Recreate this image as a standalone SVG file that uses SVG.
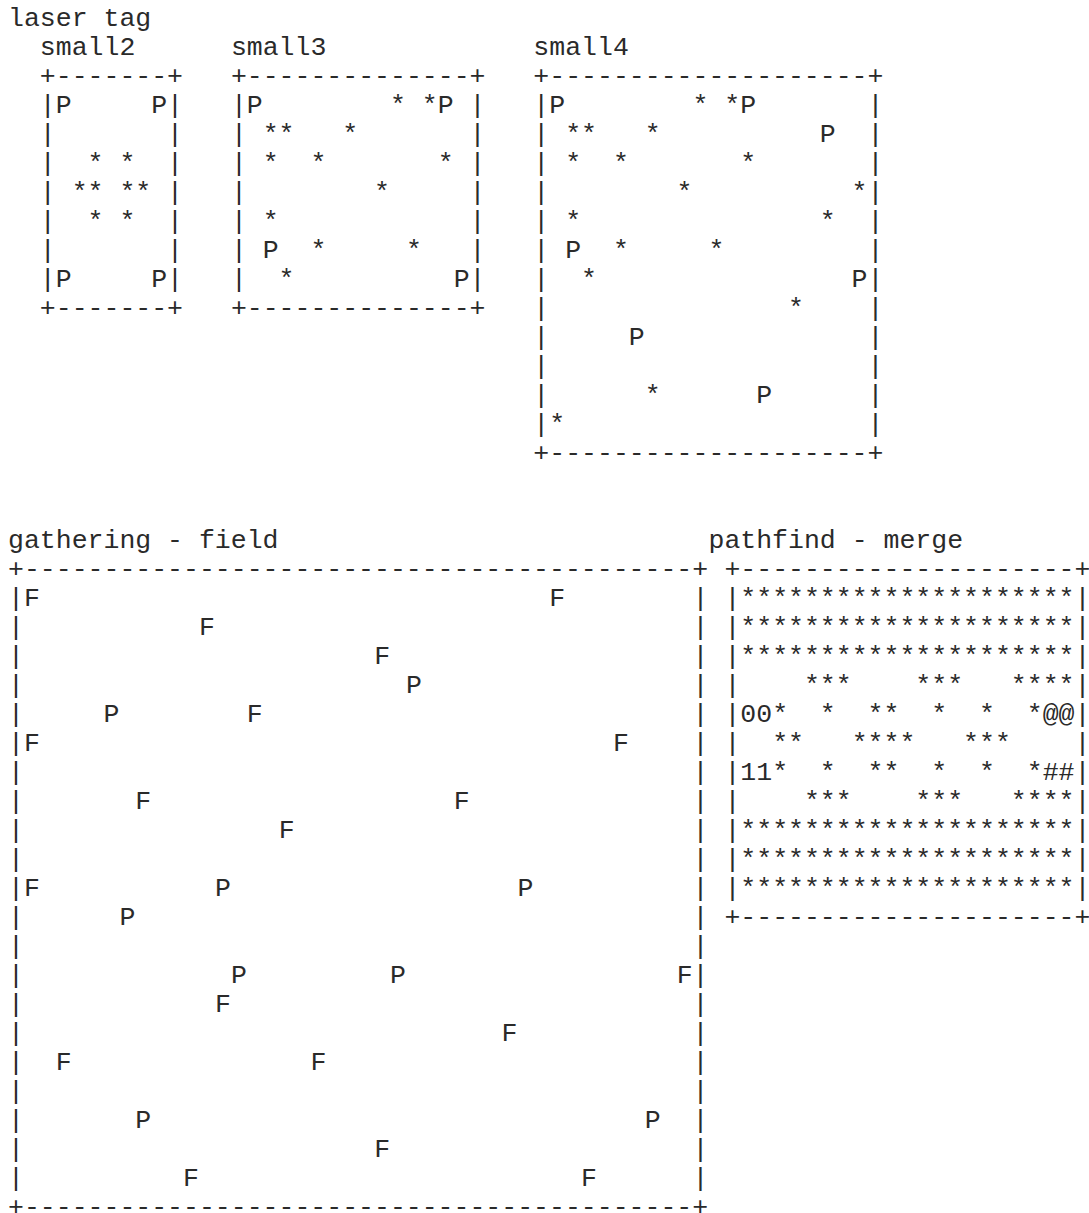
<svg xmlns="http://www.w3.org/2000/svg" width="1089" height="1213" viewBox="0 0 1089 1213">
<style>
text { font-family: "Liberation Mono", "Courier New", monospace; font-size: 26.53px; fill: #2a2a2a; white-space: pre; }
</style>
<rect width="1089" height="1213" fill="#fff"/>
<g id="laser-tag-title">
<text x="8" y="26.3">laser tag</text>
</g>
<g id="small2">
<text x="39.84" y="55.3">small2</text>
<text xml:space="preserve" x="39.84" y="84.3">+-------+</text>
<text xml:space="preserve" x="39.84" y="113.3">|P     P|</text>
<text xml:space="preserve" x="39.84" y="142.3">|       |</text>
<text xml:space="preserve" x="39.84" y="171.3">|  * *  |</text>
<text xml:space="preserve" x="39.84" y="200.3">| ** ** |</text>
<text xml:space="preserve" x="39.84" y="229.3">|  * *  |</text>
<text xml:space="preserve" x="39.84" y="258.3">|       |</text>
<text xml:space="preserve" x="39.84" y="287.3">|P     P|</text>
<text xml:space="preserve" x="39.84" y="316.3">+-------+</text>
</g>
<g id="small3">
<text x="230.88" y="55.3">small3</text>
<text xml:space="preserve" x="230.88" y="84.3">+--------------+</text>
<text xml:space="preserve" x="230.88" y="113.3">|P        * *P |</text>
<text xml:space="preserve" x="230.88" y="142.3">| **   *       |</text>
<text xml:space="preserve" x="230.88" y="171.3">| *  *       * |</text>
<text xml:space="preserve" x="230.88" y="200.3">|        *     |</text>
<text xml:space="preserve" x="230.88" y="229.3">| *            |</text>
<text xml:space="preserve" x="230.88" y="258.3">| P  *     *   |</text>
<text xml:space="preserve" x="230.88" y="287.3">|  *          P|</text>
<text xml:space="preserve" x="230.88" y="316.3">+--------------+</text>
</g>
<g id="small4">
<text x="533.36" y="55.3">small4</text>
<text xml:space="preserve" x="533.36" y="84.3">+--------------------+</text>
<text xml:space="preserve" x="533.36" y="113.3">|P        * *P       |</text>
<text xml:space="preserve" x="533.36" y="142.3">| **   *          P  |</text>
<text xml:space="preserve" x="533.36" y="171.3">| *  *       *       |</text>
<text xml:space="preserve" x="533.36" y="200.3">|        *          *|</text>
<text xml:space="preserve" x="533.36" y="229.3">| *               *  |</text>
<text xml:space="preserve" x="533.36" y="258.3">| P  *     *         |</text>
<text xml:space="preserve" x="533.36" y="287.3">|  *                P|</text>
<text xml:space="preserve" x="533.36" y="316.3">|               *    |</text>
<text xml:space="preserve" x="533.36" y="345.3">|     P              |</text>
<text xml:space="preserve" x="533.36" y="374.3">|                    |</text>
<text xml:space="preserve" x="533.36" y="403.3">|      *      P      |</text>
<text xml:space="preserve" x="533.36" y="432.3">|*                   |</text>
<text xml:space="preserve" x="533.36" y="461.3">+--------------------+</text>
</g>
<g id="gathering-field">
<text x="8" y="548.3">gathering - field</text>
<text x="8" y="577.3">+------------------------------------------+</text>
<text y="606.3"><tspan x="8">|F</tspan><tspan x="549.28">F</tspan><tspan x="692.56">|</tspan></text>
<text y="635.3"><tspan x="8">|</tspan><tspan x="199.04">F</tspan><tspan x="692.56">|</tspan></text>
<text y="664.3"><tspan x="8">|</tspan><tspan x="374.16">F</tspan><tspan x="692.56">|</tspan></text>
<text y="693.3"><tspan x="8">|</tspan><tspan x="406">P</tspan><tspan x="692.56">|</tspan></text>
<text y="722.3"><tspan x="8">|</tspan><tspan x="103.52">P</tspan><tspan x="246.8">F</tspan><tspan x="692.56">|</tspan></text>
<text y="751.3"><tspan x="8">|F</tspan><tspan x="612.96">F</tspan><tspan x="692.56">|</tspan></text>
<text y="780.3"><tspan x="8">|</tspan><tspan x="692.56">|</tspan></text>
<text y="809.3"><tspan x="8">|</tspan><tspan x="135.36">F</tspan><tspan x="453.76">F</tspan><tspan x="692.56">|</tspan></text>
<text y="838.3"><tspan x="8">|</tspan><tspan x="278.64">F</tspan><tspan x="692.56">|</tspan></text>
<text y="867.3"><tspan x="8">|</tspan><tspan x="692.56">|</tspan></text>
<text y="896.3"><tspan x="8">|F</tspan><tspan x="214.96">P</tspan><tspan x="517.44">P</tspan><tspan x="692.56">|</tspan></text>
<text y="925.3"><tspan x="8">|</tspan><tspan x="119.44">P</tspan><tspan x="692.56">|</tspan></text>
<text y="954.3"><tspan x="8">|</tspan><tspan x="692.56">|</tspan></text>
<text y="983.3"><tspan x="8">|</tspan><tspan x="230.88">P</tspan><tspan x="390.08">P</tspan><tspan x="676.64">F|</tspan></text>
<text y="1012.3"><tspan x="8">|</tspan><tspan x="214.96">F</tspan><tspan x="692.56">|</tspan></text>
<text y="1041.3"><tspan x="8">|</tspan><tspan x="501.52">F</tspan><tspan x="692.56">|</tspan></text>
<text y="1070.3"><tspan x="8">|</tspan><tspan x="55.76">F</tspan><tspan x="310.48">F</tspan><tspan x="692.56">|</tspan></text>
<text y="1099.3"><tspan x="8">|</tspan><tspan x="692.56">|</tspan></text>
<text y="1128.3"><tspan x="8">|</tspan><tspan x="135.36">P</tspan><tspan x="644.8">P</tspan><tspan x="692.56">|</tspan></text>
<text y="1157.3"><tspan x="8">|</tspan><tspan x="374.16">F</tspan><tspan x="692.56">|</tspan></text>
<text y="1186.3"><tspan x="8">|</tspan><tspan x="183.12">F</tspan><tspan x="581.12">F</tspan><tspan x="692.56">|</tspan></text>
<text x="8" y="1215.3">+------------------------------------------+</text>
</g>
<g id="pathfind-merge">
<text x="708.48" y="548.3">pathfind - merge</text>
<text x="724.4" y="577.3">+---------------------+</text>
<text x="724.4" y="606.3">|*********************|</text>
<text x="724.4" y="635.3">|*********************|</text>
<text x="724.4" y="664.3">|*********************|</text>
<text xml:space="preserve" x="724.4" y="693.3">|    ***    ***   ****|</text>
<text xml:space="preserve" x="724.4" y="722.3">|00*  *  **  *  *  *@@|</text>
<text xml:space="preserve" x="724.4" y="751.3">|  **   ****   ***    |</text>
<text xml:space="preserve" x="724.4" y="780.3">|11*  *  **  *  *  *##|</text>
<text xml:space="preserve" x="724.4" y="809.3">|    ***    ***   ****|</text>
<text x="724.4" y="838.3">|*********************|</text>
<text x="724.4" y="867.3">|*********************|</text>
<text x="724.4" y="896.3">|*********************|</text>
<text x="724.4" y="925.3">+---------------------+</text>
</g>
</svg>
